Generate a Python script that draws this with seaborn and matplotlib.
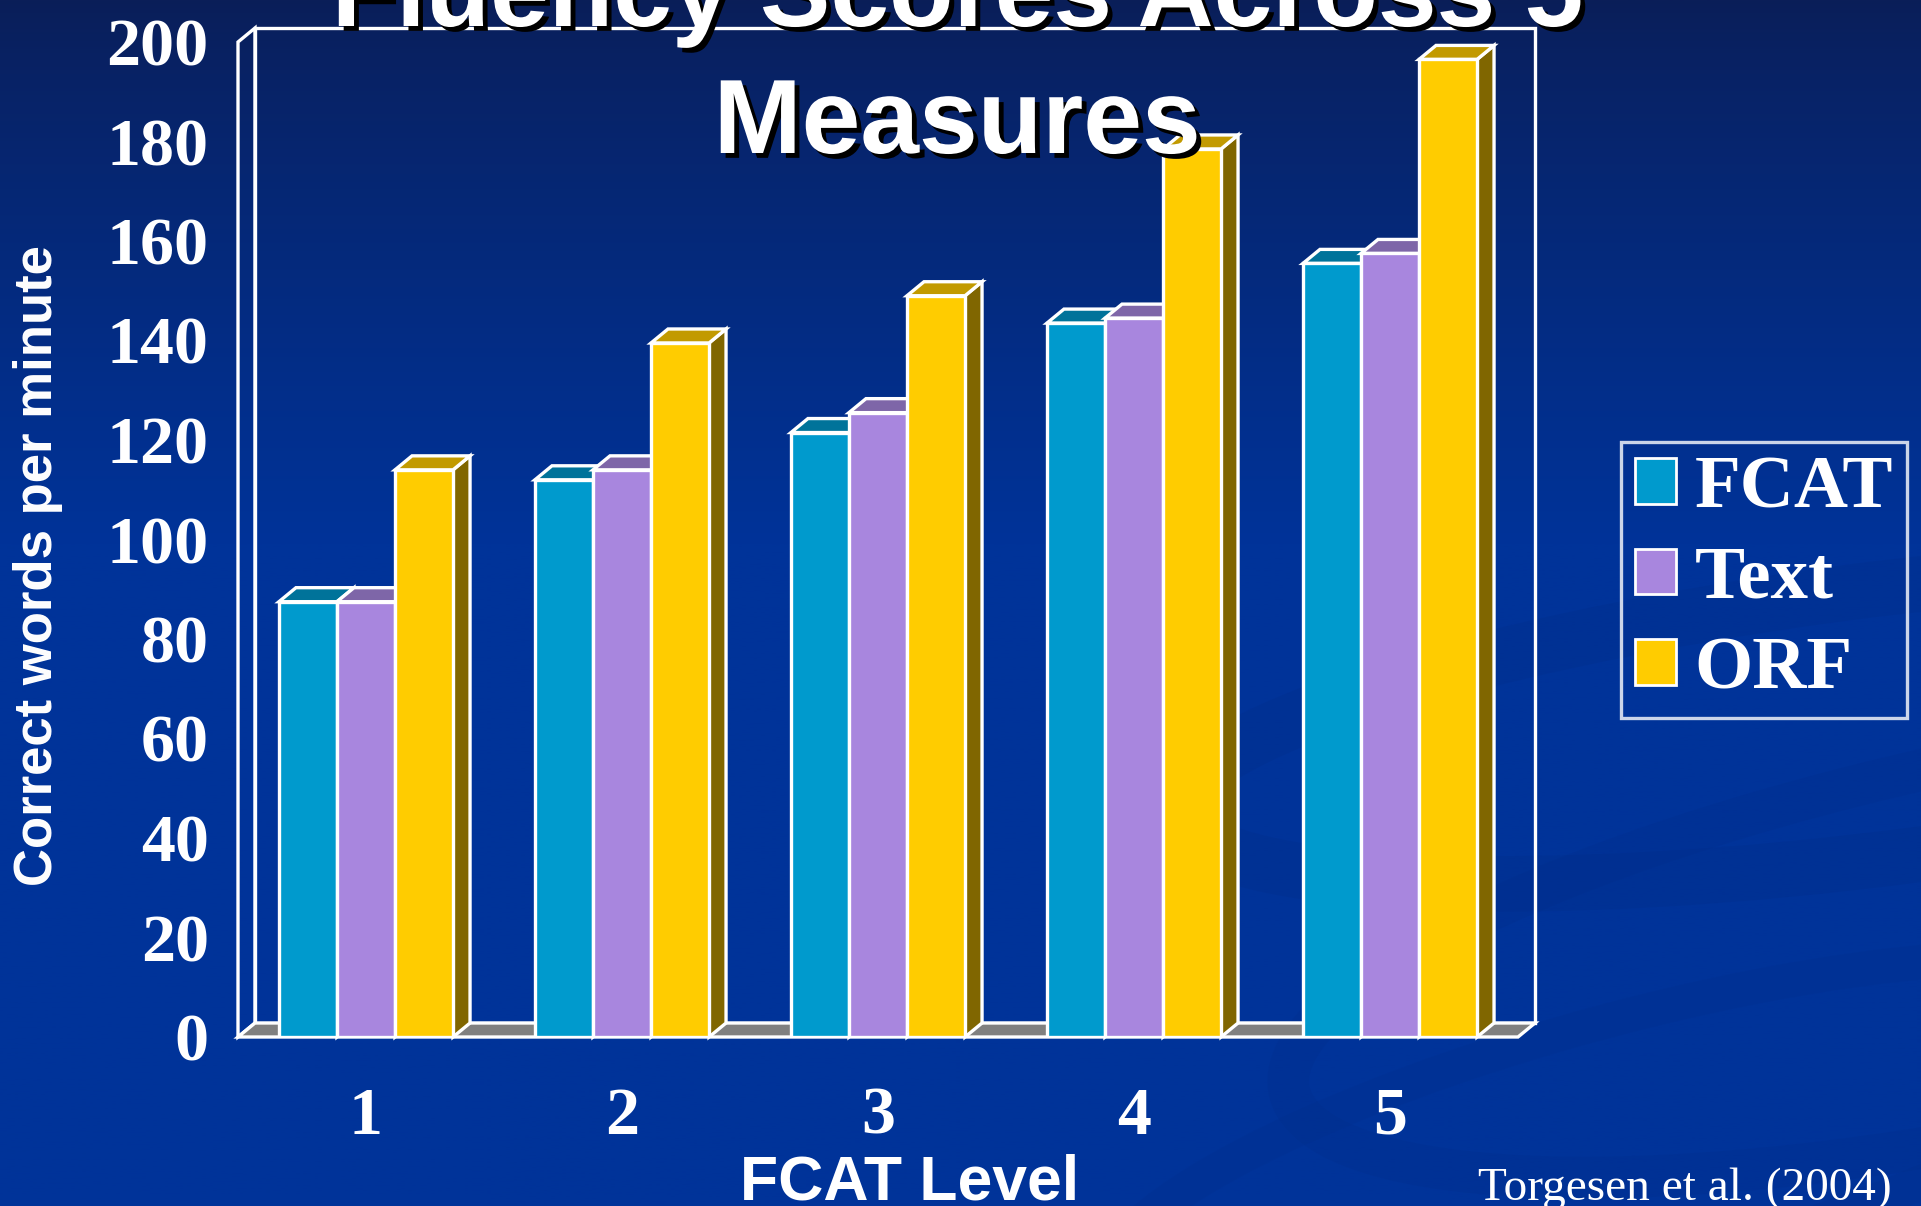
import numpy as np
import pandas as pd
import matplotlib
matplotlib.use("Agg")
import matplotlib.pyplot as plt
import seaborn as sns
from matplotlib.patches import Polygon, Rectangle, Patch, Ellipse
from matplotlib import patheffects as pe

# ---- data -------------------------------------------------------------
levels = ["1", "2", "3", "4", "5"]
measures = ["FCAT", "Text", "ORF"]
fcat_wpm = [87.5, 112, 121.5, 143.5, 155.5]
text_wpm = [87.5, 114, 125.5, 144.5, 157.5]
orf_wpm = [114, 139.5, 149, 178.5, 196.5]
y_ticks = list(range(0, 201, 20))

front_colors = ["#009acd", "#a886de", "#ffcc00"]
top_colors = ["#00739a", "#7e66a8", "#c29a00"]
side_colors = ["#005a78", "#5f4d80", "#806600"]

df = pd.DataFrame({
    "level": levels * 3,
    "measure": np.repeat(measures, len(levels)),
    "wpm": fcat_wpm + text_wpm + orf_wpm,
})

plt.rcParams["font.family"] = ["Liberation Serif", "DejaVu Serif"]
plt.rcParams["font.weight"] = "bold"

W, H, DPI = 19.21, 12.06, 100
FW, FH = W * DPI, H * DPI
fig = plt.figure(figsize=(W, H), dpi=DPI)

# ---- slide background: navy gradient with faint swirls -----------------
bg = fig.add_axes([0, 0, 1, 1], zorder=-10)
bg.set_axis_off()
t = np.linspace(0, 1, 500)[:, None]
c_top = np.array([10, 30, 88]) / 255
c_low = np.array([0, 51, 153]) / 255
mix = np.clip(t / 0.45, 0, 1) ** 0.8
grad = c_top * (1 - mix[..., None]) + c_low * mix[..., None]
grad = np.repeat(grad, 2, axis=1)
bg.imshow(grad, aspect="auto", extent=[0, 1, 0, 1], origin="upper")
for (cx, cy, w, h, ang, lw, a) in [
    (0.98, 0.40, 0.75, 0.22, 12, 40, 0.18),
    (1.05, 0.22, 0.80, 0.30, 20, 30, 0.15),
    (0.85, 0.05, 0.60, 0.20, 25, 25, 0.12),
]:
    bg.add_patch(Ellipse((cx, cy), w, h, angle=ang, fill=False,
                         edgecolor="#002a80", lw=lw, alpha=a))
bg.set_xlim(0, 1)
bg.set_ylim(0, 1)

# ---- chart axes (front plane of the 3-D box) --------------------------
ax_l, ax_r, ax_b, ax_t = 238, 1518, 1037, 42
ax = fig.add_axes([ax_l / FW, 1 - ax_b / FH, (ax_r - ax_l) / FW, (ax_b - ax_t) / FH])
ax.patch.set_visible(False)

sns.barplot(data=df, x="level", y="wpm", hue="measure", hue_order=measures,
            palette=dict(zip(measures, front_colors)), saturation=1,
            width=0.68, edgecolor="white", linewidth=2.4, legend=False, ax=ax)
bars = sorted([p for p in ax.patches if p.get_height() > 0], key=lambda p: p.get_x())
ax.set_xlim(-0.5, 4.5)
ax.set_ylim(0, 200)

DX_PX, DY_PX = 17, 14
dxa = DX_PX / (ax_r - ax_l)
dya = DY_PX / (ax_b - ax_t)
dx = dxa * 5
dy = dya * 200

edge = dict(edgecolor="white", linewidth=2.4, joinstyle="miter")

# back wall, side wall and floor
ax.add_patch(Rectangle((dxa, dya), 1, 1, transform=ax.transAxes, fill=False,
                       zorder=1, clip_on=False, **edge))
ax.add_patch(Polygon([(0, 0), (0, 1), (dxa, 1 + dya), (dxa, dya)], closed=True,
                     transform=ax.transAxes, fill=False, zorder=1, clip_on=False, **edge))
ax.add_patch(Polygon([(0, 0), (1, 0), (1 + dxa, dya), (dxa, dya)], closed=True,
                     transform=ax.transAxes, facecolor="#808080", zorder=2,
                     clip_on=False, **edge))

# extrude each bar: side face, top face, then the front face on top
for j, p in enumerate(bars):
    k = j % 3
    x0, w, h = p.get_x(), p.get_width(), p.get_height()
    z = 5 + 3 * j
    ax.add_patch(Polygon([(x0 + w, 0), (x0 + w + dx, dy), (x0 + w + dx, h + dy), (x0 + w, h)],
                         closed=True, facecolor=side_colors[k], zorder=z, clip_on=False, **edge))
    ax.add_patch(Polygon([(x0, h), (x0 + w, h), (x0 + w + dx, h + dy), (x0 + dx, h + dy)],
                         closed=True, facecolor=top_colors[k], zorder=z + 1, clip_on=False, **edge))
    p.set_zorder(z + 2)
    p.set_joinstyle("miter")

for s in ax.spines.values():
    s.set_visible(False)
ax.set_xlabel("")
ax.set_ylabel("")
ax.set_yticks(y_ticks)
ax.tick_params(axis="y", length=0, pad=21, labelsize=49, labelcolor="white")
ax.tick_params(axis="x", length=0, pad=36, labelsize=49, labelcolor="white")

# ---- texts ------------------------------------------------------------
shadow = [pe.SimplePatchShadow(offset=(3.5, -3.5), shadow_rgbFace="black", alpha=1.0),
          pe.Normal()]
for line, base in [("Fluency Scores Across 5", 26), ("Measures", 153)]:
    fig.text(957 / FW, 1 - base / FH, line, ha="center", va="baseline",
             family="Liberation Sans", weight="bold", size=76, color="white",
             path_effects=shadow, zorder=20)

fig.text(38 / FW, 1 - 566 / FH, "Correct words per minute", rotation=90,
         ha="center", va="center", family="Liberation Sans", weight="bold",
         size=38, color="white")
fig.text(910 / FW, 1 - 1199 / FH, "FCAT Level", ha="center", va="baseline",
         family="Liberation Sans", weight="bold", size=45, color="white")
fig.text(1892 / FW, 1 - 1200 / FH, "Torgesen et al. (2004)", ha="right",
         va="baseline", family="Liberation Serif", weight="normal", size=34,
         color="white")

handles = [Patch(facecolor=c, edgecolor="white", linewidth=2) for c in front_colors]
leg = fig.legend(handles, measures, loc="upper left",
                 bbox_to_anchor=(1621 / FW, 1 - 442 / FH), borderaxespad=0,
                 frameon=True, fancybox=False, facecolor="none", edgecolor="white",
                 prop=dict(family="Liberation Serif", weight="bold", size=54),
                 labelcolor="white", handlelength=0.55, handleheight=0.55,
                 handletextpad=0.25, labelspacing=0.3, borderpad=0.18)
leg.get_frame().set_linewidth(2.4)

fig.savefig("out.png", dpi=DPI)
